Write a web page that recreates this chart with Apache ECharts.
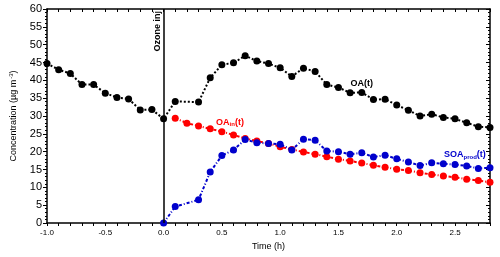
<!DOCTYPE html>
<html><head><meta charset="utf-8">
<script src="https://cdn.jsdelivr.net/npm/echarts@6/dist/echarts.min.js"></script>
<style>html,body{margin:0;padding:0;background:#fff}#c{width:500px;height:257px}</style>
</head><body><div id="c"></div>
<script>
var timeOA = [-1.0,-0.9,-0.8,-0.7,-0.6,-0.5,-0.4,-0.3,-0.2,-0.1,0.0,0.1,0.3,0.4,0.5,0.6,0.7,0.8,0.9,1.0,1.1,1.2,1.3,1.4,1.5,1.6,1.7,1.8,1.9,2.0,2.1,2.2,2.3,2.4,2.5,2.6,2.7,2.8];
var oa = [44.7,43.0,41.9,38.8,38.8,36.4,35.2,34.8,31.7,31.8,29.2,34.1,33.9,40.7,44.4,44.9,46.9,45.4,44.7,43.5,41.1,43.4,42.5,38.8,38.0,36.5,36.6,34.6,34.7,33.1,31.6,30.0,30.5,29.6,29.2,28.1,27.0,26.8];
var timeIn = [0.1,0.2,0.3,0.4,0.5,0.6,0.7,0.8,0.9,1.0,1.1,1.2,1.3,1.4,1.5,1.6,1.7,1.8,1.9,2.0,2.1,2.2,2.3,2.4,2.5,2.6,2.7,2.8];
var oaIn = [29.4,28.0,27.2,26.4,25.6,24.7,23.7,23.0,22.3,21.4,20.6,19.9,19.3,18.6,17.9,17.4,16.8,16.2,15.6,15.1,14.7,14.1,13.6,13.2,12.8,12.3,11.9,11.4];
var timeSOA = [0.0,0.1,0.3,0.4,0.5,0.6,0.7,0.8,0.9,1.0,1.1,1.2,1.3,1.4,1.5,1.6,1.7,1.8,1.9,2.0,2.1,2.2,2.3,2.4,2.5,2.6,2.7,2.8];
var soa = [0,4.6,6.5,14.3,18.9,20.5,23.4,22.5,22.3,22.1,20.5,23.5,23.2,20.2,20.0,19.3,19.7,18.5,19.0,18.0,17.1,16.1,16.9,16.6,16.4,16.0,15.3,15.5];
var injectionTime = 0.0;
var labelOA = [1.70, 39.2], labelIn = [0.57, 28.3], labelSOA = [2.585, 19.1];

function zip(a, b) { return a.map(function (v, i) { return [v, b[i]]; }); }
var FONT = '"Liberation Sans", Arial, sans-serif';
var axisLine = { show: true, onZero: false, lineStyle: { color: '#000', width: 1.5 } };

var chart = echarts.init(document.getElementById('c'), null, { renderer: 'canvas' });
chart.setOption({
  animation: false,
  backgroundColor: '#fff',
  grid: { left: 46, right: 10, top: 9, bottom: 34 },
  xAxis: [{
    type: 'value', position: 'bottom', min: -1.0, max: 2.8, interval: 0.1,
    axisLine: axisLine,
    axisTick: { show: true, length: 3, lineStyle: { color: '#000', width: 1 } },
    splitLine: { show: false },
    axisLabel: { fontFamily: FONT, fontSize: 8, color: '#000', margin: 6,
      formatter: function (v) { return Math.abs(v * 2 - Math.round(v * 2)) < 1e-6 ? v.toFixed(1) : ''; } },
    name: 'Time (h)', nameLocation: 'middle', nameGap: 19,
    nameTextStyle: { fontFamily: FONT, fontSize: 9, color: '#000' }
  }, {
    type: 'value', position: 'top', min: -1.0, max: 2.8, interval: 0.1,
    axisLine: axisLine,
    axisTick: { show: true, inside: true, length: 3, lineStyle: { color: '#000', width: 1 } },
    axisLabel: { show: false }, splitLine: { show: false }
  }],
  yAxis: [{
    type: 'value', position: 'left', min: 0, max: 60, interval: 5,
    axisLine: axisLine,
    axisTick: { show: true, length: 4, lineStyle: { color: '#000', width: 1 } },
    minorTick: { show: true, splitNumber: 5, length: 2, lineStyle: { color: '#000', width: 1 } },
    splitLine: { show: false },
    axisLabel: { fontFamily: FONT, fontSize: 11, color: '#000', margin: 5 },
    name: 'Concentration (µg m{sup|-3})', nameLocation: 'middle', nameGap: 28,
    nameTextStyle: { fontFamily: FONT, fontSize: 9, color: '#000',
      rich: { sup: { fontFamily: FONT, fontSize: 6, color: '#000', verticalAlign: 'top', padding: [0, 0, 5, 1] } } }
  }, {
    type: 'value', position: 'right', min: 0, max: 60, interval: 5,
    axisLine: axisLine,
    axisTick: { show: true, inside: true, length: 4, lineStyle: { color: '#000', width: 1 } },
    minorTick: { show: true, splitNumber: 5, length: 2, lineStyle: { color: '#000', width: 1 } },
    axisLabel: { show: false }, splitLine: { show: false }
  }],
  series: [{
    name: 'OA(t)', type: 'line', data: zip(timeOA, oa),
    symbol: 'circle', symbolSize: 7, itemStyle: { color: '#000' },
    lineStyle: { color: '#000', width: 2, type: [2, 2] },
    markLine: {
      silent: true, symbol: 'none',
      lineStyle: { color: '#000', width: 1.5, type: 'solid' },
      label: { show: true, position: 'insideEndTop', distance: 2, formatter: 'Ozone inj', fontFamily: FONT, fontSize: 9, fontWeight: 'bold', color: '#000' },
      data: [[{ coord: [injectionTime, 0] }, { coord: [injectionTime, 60] }]]
    },
    markPoint: {
      silent: true, symbol: 'circle', symbolSize: 0,
      label: { show: true, position: 'inside', formatter: 'OA(t)', fontFamily: FONT, fontSize: 9, fontWeight: 'bold', color: '#000' },
      data: [{ coord: labelOA }]
    },
    z: 2
  }, {
    name: 'OAin(t)', type: 'line', data: zip(timeIn, oaIn),
    symbol: 'circle', symbolSize: 7, itemStyle: { color: '#ff0000' },
    lineStyle: { color: '#ff0000', width: 2, type: [3, 2, 1, 2] },
    markPoint: {
      silent: true, symbol: 'circle', symbolSize: 0,
      label: { show: true, position: 'inside', formatter: 'OA{sub|in}(t)', fontFamily: FONT, fontSize: 9, fontWeight: 'bold', color: '#ff0000',
        rich: { sub: { fontFamily: FONT, fontSize: 6, fontWeight: 'bold', color: '#ff0000', verticalAlign: 'bottom', padding: [4, 0, 0, 0] } } },
      data: [{ coord: labelIn }]
    },
    z: 3
  }, {
    name: 'SOAprod(t)', type: 'line', data: zip(timeSOA, soa),
    symbol: 'circle', symbolSize: 7, itemStyle: { color: '#0000cc' },
    lineStyle: { color: '#0000cc', width: 2, type: [3, 2, 1, 2] },
    markPoint: {
      silent: true, symbol: 'circle', symbolSize: 0,
      label: { show: true, position: 'inside', formatter: 'SOA{sub|prod}(t)', fontFamily: FONT, fontSize: 9, fontWeight: 'bold', color: '#0000cc',
        rich: { sub: { fontFamily: FONT, fontSize: 6, fontWeight: 'bold', color: '#0000cc', verticalAlign: 'bottom', padding: [4, 0, 0, 0] } } },
      data: [{ coord: labelSOA }]
    },
    z: 4
  }]
});
</script></body></html>
